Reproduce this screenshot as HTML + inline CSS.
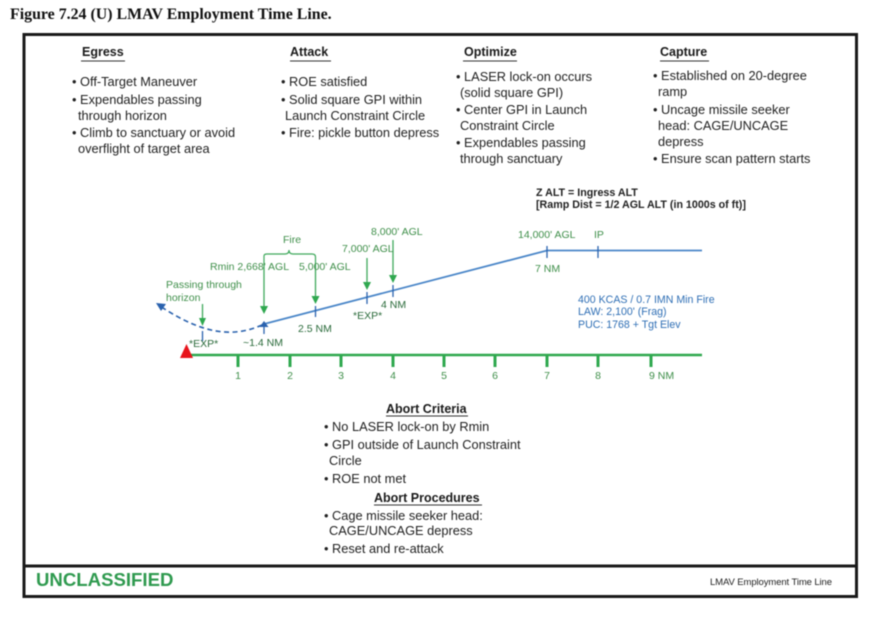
<!DOCTYPE html>
<html><head><meta charset="utf-8">
<style>
html,body{margin:0;padding:0;background:#fff}
svg{display:block;filter:blur(.45px)}
text{font-family:"Liberation Sans",sans-serif;font-size:12.8px;fill:#222}
.h{font-weight:bold;font-size:12.5px;fill:#1a1a1a}
.g{fill:#3f8f4a;font-size:10.5px}
.b{fill:#2f6fb5;font-size:10.6px}
</style></head><body>
<svg width="878" height="625" viewBox="0 0 878 625" xmlns="http://www.w3.org/2000/svg">
<rect width="878" height="625" fill="#fff"/>
<text x="10" y="19" style="font-family:'Liberation Serif',serif;font-weight:bold;font-size:15.9px;fill:#111">Figure 7.24 (U) LMAV Employment Time Line.</text>
<rect x="24" y="34.5" width="832.5" height="562" fill="none" stroke="#1a1a1a" stroke-width="3"/>
<line x1="24" y1="566" x2="856" y2="566" stroke="#1a1a1a" stroke-width="3"/>

<text class="h" x="82" y="56">Egress</text><line x1="81" y1="61" x2="125" y2="61" stroke="#333"/>
<text class="h" x="290" y="56">Attack</text><line x1="290" y1="61" x2="331" y2="61" stroke="#333"/>
<text class="h" x="464" y="56">Optimize</text><line x1="463" y1="61" x2="517" y2="61" stroke="#333"/>
<text class="h" x="660" y="56">Capture</text><line x1="660" y1="61" x2="709" y2="61" stroke="#333"/>

<text x="72" y="86">• Off-Target Maneuver</text>
<text x="72" y="104">• Expendables passing</text>
<text x="78" y="120">through horizon</text>
<text x="72" y="137">• Climb to sanctuary or avoid</text>
<text x="78" y="153">overflight of target area</text>

<text x="281" y="86">• ROE satisfied</text>
<text x="281" y="104">• Solid square GPI within</text>
<text x="285" y="120">Launch Constraint Circle</text>
<text x="281" y="137">• Fire: pickle button depress</text>

<text x="456" y="81">• LASER lock-on occurs</text>
<text x="460" y="97">(solid square GPI)</text>
<text x="456" y="114">• Center GPI in Launch</text>
<text x="460" y="130">Constraint Circle</text>
<text x="456" y="147">• Expendables passing</text>
<text x="460" y="163">through sanctuary</text>

<text x="653" y="80">• Established on 20-degree</text>
<text x="658" y="96">ramp</text>
<text x="653" y="114">• Uncage missile seeker</text>
<text x="658" y="130">head: CAGE/UNCAGE</text>
<text x="658" y="146">depress</text>
<text x="653" y="163">• Ensure scan pattern starts</text>

<text x="536" y="196" style="font-weight:bold;font-size:10.7px">Z ALT = Ingress ALT</text>
<text x="536" y="208" style="font-weight:bold;font-size:10.7px">[Ramp Dist = 1/2 AGL ALT (in 1000s of ft)]</text>

<!-- ground axis -->
<line x1="190" y1="355" x2="702" y2="355" stroke="#2fa84f" stroke-width="2.5"/>
<g stroke="#2fa84f" stroke-width="3">
<line x1="238" y1="355" x2="238" y2="367"/><line x1="290" y1="355" x2="290" y2="367"/>
<line x1="341" y1="355" x2="341" y2="367"/><line x1="393" y1="355" x2="393" y2="367"/>
<line x1="444" y1="355" x2="444" y2="367"/><line x1="495" y1="355" x2="495" y2="367"/>
<line x1="547" y1="355" x2="547" y2="367"/><line x1="598" y1="355" x2="598" y2="367"/>
<line x1="651" y1="355" x2="651" y2="367"/>
</g>
<polygon points="186.5,344 180,358 193,358" fill="#e8141c"/>
<g class="g" text-anchor="middle">
<text class="g" x="238" y="379">1</text><text class="g" x="290" y="379">2</text>
<text class="g" x="341" y="379">3</text><text class="g" x="393" y="379">4</text>
<text class="g" x="444" y="379">5</text><text class="g" x="495" y="379">6</text>
<text class="g" x="547" y="379">7</text><text class="g" x="598" y="379">8</text>
</g>
<text class="g" x="649" y="379">9 NM</text>

<!-- flight path -->
<path d="M264 324 L547 250.5 H702" fill="none" stroke="#4a86c8" stroke-width="1.8"/>
<path d="M262 325 C235 337 205 336 160 306" fill="none" stroke="#2a62ae" stroke-width="1.6" stroke-dasharray="5 3.5"/>
<polygon points="156,303 166,304 161,311" fill="#2a62ae"/>
<polygon points="264,321 268.5,327 259.5,327" fill="#2a62ae"/>
<g stroke="#2a62ae" stroke-width="1.3">
<line x1="264" y1="324" x2="264" y2="334"/>
<line x1="202.5" y1="331" x2="202.5" y2="341"/>
<line x1="315.5" y1="306" x2="315.5" y2="317"/>
<line x1="367" y1="292" x2="367" y2="304"/>
<line x1="393" y1="285" x2="393" y2="297"/>
<line x1="547" y1="246" x2="547" y2="258"/>
<line x1="598" y1="246" x2="598" y2="258"/>
</g>

<!-- green callouts -->
<path d="M264 268 V256 Q264 254 267 254 H285 Q289 254 289 250 Q289 254 293 254 H312 Q315.5 254 315.5 257 V268" fill="none" stroke="#3fa95c" stroke-width="1.2"/>
<g stroke="#3fa95c" stroke-width="1.3">
<line x1="264" y1="268" x2="264" y2="308"/>
<line x1="315.5" y1="268" x2="315.5" y2="298"/>
<line x1="367" y1="258" x2="367" y2="284"/>
<line x1="393" y1="240" x2="393" y2="278"/>
<line x1="202.5" y1="304" x2="202.5" y2="320"/>
</g>
<g fill="#2fa84f">
<polygon points="264,314 260,306 268,306"/>
<polygon points="315.5,304 311.5,296 319.5,296"/>
<polygon points="367,290 363,282 371,282"/>
<polygon points="393,283 389,275 397,275"/>
<polygon points="202.5,326 199,318 206,318"/>
</g>

<text class="g" x="283" y="243">Fire</text>
<text class="g" x="210" y="270">Rmin 2,668' AGL</text>
<text class="g" x="299" y="270">5,000' AGL</text>
<text class="g" x="342" y="252">7,000' AGL</text>
<text class="g" x="371" y="235">8,000' AGL</text>
<text class="g" x="166" y="288">Passing through</text>
<text class="g" x="166" y="301">horizon</text>
<text class="g" x="518" y="238">14,000' AGL</text>
<text class="g" x="594" y="238">IP</text>
<text class="g" x="535" y="272">7 NM</text>

<text x="189" y="347" style="font-size:10.5px;fill:#2a6a3a">*EXP*</text>
<text x="243" y="346" style="font-size:10.5px;fill:#2a6a3a">~1.4 NM</text>
<text x="298" y="332" style="font-size:10.5px;fill:#2a6a3a">2.5 NM</text>
<text x="353" y="319" style="font-size:10.5px;fill:#2a6a3a">*EXP*</text>
<text x="381" y="308" style="font-size:10.5px;fill:#2a6a3a">4 NM</text>

<text class="b" x="578" y="303">400 KCAS / 0.7 IMN Min Fire</text>
<text class="b" x="578" y="315">LAW: 2,100' (Frag)</text>
<text class="b" x="578" y="328">PUC: 1768 + Tgt Elev</text>

<!-- abort -->
<text class="h" x="386" y="413">Abort Criteria</text><line x1="386" y1="416" x2="468" y2="416" stroke="#333"/>
<text x="324" y="431">• No LASER lock-on by Rmin</text>
<text x="324" y="449">• GPI outside of Launch Constraint</text>
<text x="329" y="465">Circle</text>
<text x="324" y="483">• ROE not met</text>
<text class="h" x="374" y="502">Abort Procedures</text><line x1="374" y1="505" x2="482" y2="505" stroke="#333"/>
<text x="324" y="520">• Cage missile seeker head:</text>
<text x="329" y="535">CAGE/UNCAGE depress</text>
<text x="324" y="553">• Reset and re-attack</text>

<text x="36" y="586" style="font-weight:bold;font-size:18.6px;fill:#2f9a4f">UNCLASSIFIED</text>
<text x="710" y="585" style="font-size:9.5px;letter-spacing:-.1px">LMAV Employment Time Line</text>
</svg>
</body></html>
